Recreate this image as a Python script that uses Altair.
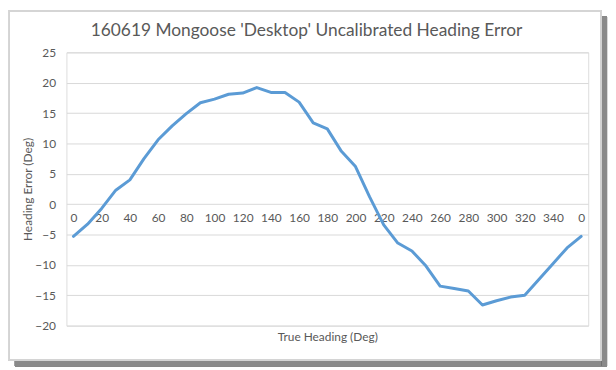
import altair as alt
import pandas as pd

headings = [0, 10, 20, 30, 40, 50, 60, 70, 80, 90, 100, 110, 120, 130, 140, 150, 160, 170,
            180, 190, 200, 210, 220, 230, 240, 250, 260, 270, 280, 290, 300, 310, 320, 330,
            340, 350, 0]
errors = [-5.3, -3.3, -0.7, 2.3, 4.0, 7.5, 10.6, 12.9, 14.9, 16.7, 17.3, 18.1, 18.3, 19.2,
          18.4, 18.4, 16.8, 13.4, 12.4, 8.7, 6.2, 1.2, -3.4, -6.4, -7.7, -10.2, -13.5, -13.9,
          -14.3, -16.6, -15.9, -15.3, -15.0, -12.4, -9.8, -7.2, -5.3]
y_ticks = [-20, -15, -10, -5, 0, 5, 10, 15, 20, 25]

df = pd.DataFrame({"idx": list(range(len(headings))), "heading": headings, "error": errors})

label_arr = "[" + ",".join("'%d'" % h for h in headings) + "]"
label_expr = "datum.value % 2 == 0 ? " + label_arr + "[datum.value] : ''"

FONT = "Lato"
GREY = "#595959"

W, H = 527, 276

shadow_r = alt.Chart(df).mark_rect(fill="#8a8a8a", opacity=0.5, clip=False).encode(
    x=alt.value(540), x2=alt.value(546), y=alt.value(-36), y2=alt.value(317)
)
shadow_b = alt.Chart(df).mark_rect(fill="#8a8a8a", opacity=0.5, clip=False).encode(
    x=alt.value(-52), x2=alt.value(540), y=alt.value(311), y2=alt.value(317)
)
frame = alt.Chart(df).mark_rect(fill=None, stroke="#d4d4d4", strokeWidth=1, clip=False).encode(
    x=alt.value(-58), x2=alt.value(540), y=alt.value(-42), y2=alt.value(311)
)

line = alt.Chart(df).mark_line(
    color="#5B9BD5", strokeWidth=3, strokeJoin="round", strokeCap="round"
).encode(
    x=alt.X(
        "idx:Q",
        scale=alt.Scale(domain=[-0.5, len(headings) - 0.5], nice=False, zero=False),
        axis=alt.Axis(
            title="True Heading (Deg)",
            values=list(range(0, len(headings), 2)),
            labelExpr=label_expr,
            offset=-H * 20 / 45,
            domain=False,
            ticks=False,
            grid=False,
            labelPadding=9,
            labelFont=FONT, labelFontSize=12, labelColor=GREY,
            titleFont=FONT, titleFontSize=12, titleColor=GREY, titleFontWeight="normal",
            titleY=134, titleBaseline="middle",
        ),
    ),
    y=alt.Y(
        "error:Q",
        scale=alt.Scale(domain=[-20, 25], nice=False),
        axis=alt.Axis(
            title="Heading Error (Deg)",
            values=y_ticks,
            domain=False, ticks=False,
            gridColor="#d9d9d9", gridWidth=1,
            labelPadding=11,
            labelFont=FONT, labelFontSize=12, labelColor=GREY,
            titleFont=FONT, titleFontSize=12, titleColor=GREY, titleFontWeight="normal",
            titleX=-39, titleBaseline="middle",
        ),
    ),
)

chart = alt.layer(shadow_r, shadow_b, frame, line).properties(
    width=W, height=H,
    autosize=alt.AutoSizeParams(type="none"),
    padding={"left": 59, "top": 43, "right": 20, "bottom": 41},
    title=alt.TitleParams(
        "160619 Mongoose 'Desktop' Uncalibrated Heading Error",
        font=FONT, fontSize=17.5, fontWeight="normal", color=GREY,
        anchor="middle", frame="group", dx=-21, dy=42, offset=13,
    ),
).configure_view(stroke=None).configure(background="white")

chart.save("out.html", embed_options={"renderer": "svg", "actions": False})
